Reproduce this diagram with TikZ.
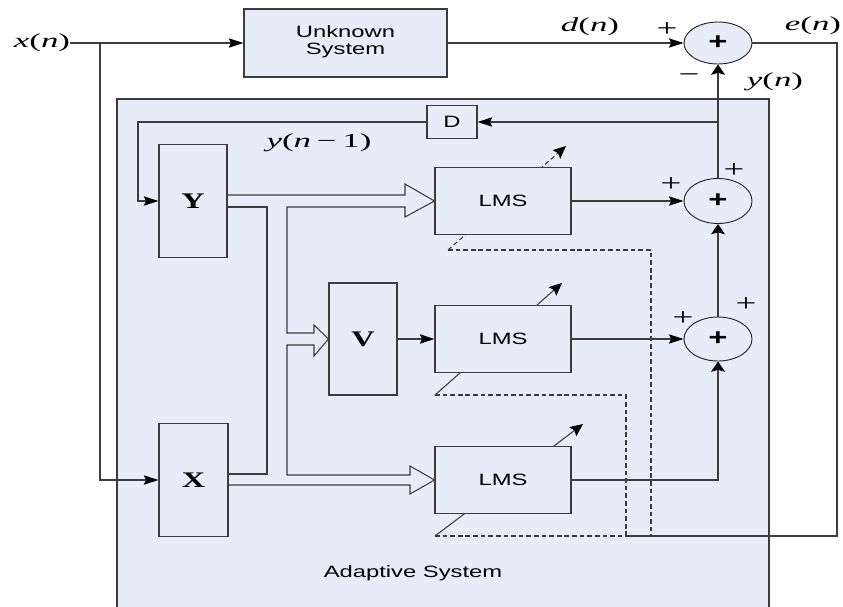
\documentclass[tikz,border=0pt]{standalone}
\usepackage{fontspec}
\setmainfont{Liberation Serif}
\setsansfont{Liberation Sans}
\usepackage{graphicx}
\usetikzlibrary{arrows.meta,positioning,calc,shapes.geometric,backgrounds}
\definecolor{sysfill}{RGB}{231,237,248}
\definecolor{linegray}{RGB}{60,60,60}
% the reference is stretched sideways, so is its text
\newcommand{\wide}[2][1.45]{\scalebox{#1}[1]{#2}}
\newcommand{\sig}[2]{\wide[1.75]{\textit{#1}(\textit{#2})}}
\tikzset{
  ln/.style={draw=linegray,line width=0.9pt},
  blk/.style={rectangle,draw=linegray,line width=0.9pt,fill=sysfill,inner sep=0pt,font=\fontsize{14}{14.5}\selectfont\sffamily},
  bigl/.style={blk,minimum width=2.04cm,minimum height=3.39cm,font=\fontsize{19}{21}\selectfont\rmfamily\bfseries},
  lms/.style={blk,minimum width=4.08cm,minimum height=2.01cm},
  sumnode/.style={ellipse,draw=black!85,line width=0.8pt,fill=sysfill,minimum width=2.04cm,minimum height=1.32cm,inner sep=0pt,font=\fontsize{20}{22}\selectfont\sffamily\bfseries},
  lbl/.style={inner sep=0pt,font=\fontsize{17}{19}\selectfont\rmfamily},
  sgn/.style={inner sep=0pt,font=\fontsize{21}{23}\selectfont\rmfamily},
  harr/.style={-{Stealth[length=4.4mm,width=2.8mm,inset=0.7mm,color=black]}},
  varr/.style={-{Stealth[length=3.1mm,width=4.2mm,inset=0.6mm,color=black]}},
  darr/.style={-{Stealth[length=3.8mm,width=3.4mm,inset=0.6mm,color=black]}},
  fb/.style={dash pattern=on 4pt off 2.5pt}
}

\begin{document}
\begin{tikzpicture}[x=0.03cm,y=-0.03cm]
\clip (0,0) rectangle (843,606);
% unknown system and error
\node[lbl] (xn) at (42,43) {\sig{x}{n}};
\node[blk,minimum width=6.09cm,minimum height=2.04cm] (unk) at (345.5,43) {\wide{\begin{tabular}{@{}c@{}}Unknown\\System\end{tabular}}};
\node[sumnode,minimum height=1.26cm] (sum1) at (718,43) {\wide[1.4]{+}};
\coordinate (br) at (100,43);
\coordinate (ecorner) at (837,536);
\node[lbl] (dn) at (590,27) {\sig{d}{n}};
\node[lbl] (en) at (813,26) {\sig{e}{n}};
\node[lbl] (yn) at (775,82) {\sig{y}{n}};
\node[sgn] (p1) at (667,30) {\wide[1.5]{+}};
\node[sgn] (m1) at (689,78) {\wide[1.5]{−}};
% adaptive system
\node[lbl,font=\fontsize{14}{16}\selectfont\sffamily] (adaptlbl) at (413,573) {\wide{Adaptive System}};
\node[blk,minimum width=1.5cm,minimum height=0.99cm] (D) at (452,122) {\wide{D}};
\node[lbl] (ynm) at (319,143) {\wide[1.75]{\textit{y}(\textit{n}\,−\,1)}};
\node[bigl] (Y) at (193,201) {\wide{Y}};
\node[bigl,minimum height=3.36cm] (V) at (363,339) {\wide{V}};
\node[bigl,minimum width=2.07cm] (X) at (193.5,480) {\wide{X}};
\node[lms] (LMS1) at (503,201) {\wide{LMS}};
\node[lms] (LMS2) at (503,339) {\wide{LMS}};
\node[lms] (LMS3) at (503,480) {\wide{LMS}};
\node[sumnode,minimum height=1.35cm] (sum2) at (718,201) {\wide[1.4]{+}};
\node[sumnode] (sum3) at (718,339) {\wide[1.4]{+}};
\node[sgn] (p2) at (671,185) {\wide[1.5]{+}};
\node[sgn] (p3) at (734,171) {\wide[1.5]{+}};
\node[sgn] (p4) at (683,319) {\wide[1.5]{+}};
\node[sgn] (p5) at (746,305) {\wide[1.5]{+}};
% signal paths
\draw[ln,harr] (xn) -- (unk);
\draw[ln,harr] (br) |- (X.west);
\draw[ln,harr] (unk) -- (sum1);
\draw[ln] (sum1) -| (ecorner) -- (626,536) coordinate (ejoin);
\draw[ln,harr] (sum2.north |- D.east) -- (D.east);
\draw[ln,harr] (D.west) -- (138,122) coordinate (fbc) |- (Y.west);
\draw[ln,harr] (V) -- (LMS2);
\draw[ln,harr] (LMS1) -- (sum2);
\draw[ln,harr] (LMS2) -- (sum3);
\draw[ln,varr] (LMS3.east) -| (sum3.south);
\draw[ln,varr] (sum3) -- (sum2);
\draw[ln,varr] (sum2) -- (sum1);
% wide buses
\draw[ln] ([yshift=0.18cm]Y.east) -- (405,195) -- (405,184) -- (LMS1.west) -- (405,217) -- (405,207)
  -- (287,207) -- (287,333) -- (314,333) -- (314,325) -- (V.west) -- (314,356) -- (314,345)
  -- (287,345) -- (287,475) -- (410,475) -- (410,466) -- (LMS3.west) -- (410,494) -- (410,485)
  -- ([yshift=-0.15cm]X.east);
\draw[ln] ([yshift=-0.18cm]Y.east) -- (267,207) -- (267,474) -- ([yshift=0.18cm]X.east);
% frame and adaptation lines behind the blocks
\begin{scope}[on background layer]
\draw[ln,fill=sysfill] (117,99) rectangle (769,625);
\draw[ln,fb,darr] (448,250) coordinate (a1) -- (566,146);
\draw[ln,fb] (a1) -- (651,250) -- (651,536);
\draw[ln,darr] (435,395) coordinate (a2) -- (562,283);
\draw[ln,fb] (a2) -- (626,395) -- (ejoin);
\draw[ln,darr] (435,536) coordinate (a3) -- (583,424);
\draw[ln,fb] (a3) -- (ejoin);
\end{scope}
\end{tikzpicture}
\end{document}
